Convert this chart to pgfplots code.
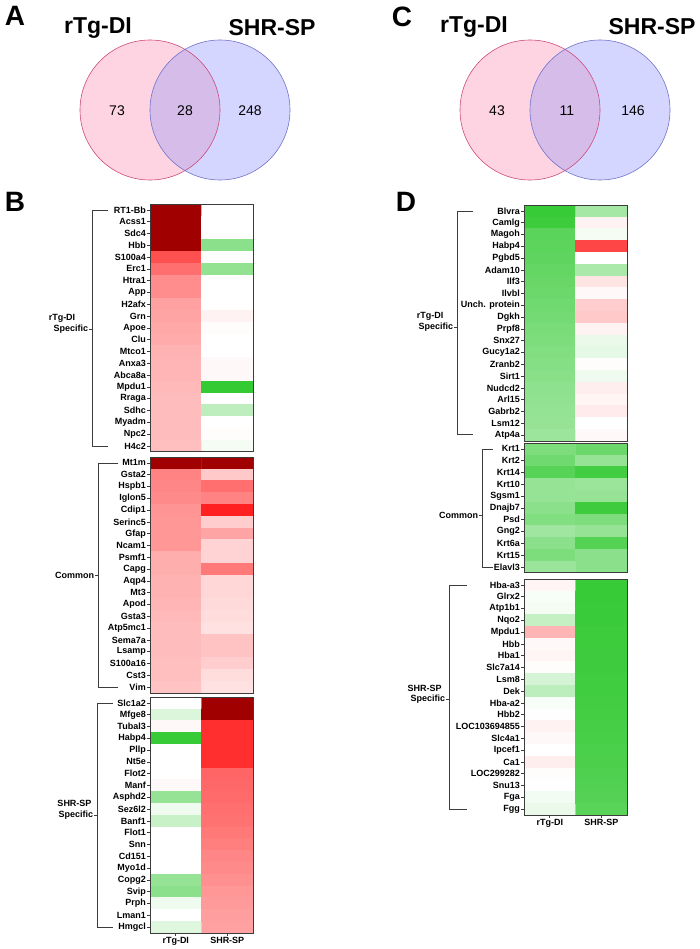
\documentclass[border=0pt]{standalone}
\usepackage{pgfplots}
\pgfplotsset{compat=1.18}
\usepackage{fontspec}
\setmainfont{Liberation Sans}

\definecolor{vpink}{RGB}{255,212,226}
\definecolor{vblue}{RGB}{212,214,255}
\definecolor{vover}{RGB}{214,188,232}
\definecolor{vpinkline}{RGB}{205,75,125}
\definecolor{vblueline}{RGB}{115,115,200}
\definecolor{frame}{RGB}{60,60,60}

\newcommand{\lab}{\bfseries\fontsize{9}{9}\selectfont}

\pgfplotsset{
  heat/.style={
    scale only axis, width=103pt, anchor=north west, axis on top,
    xmin=-0.5, xmax=1.5, ymin=-0.5, y dir=reverse,
    colormap={rwg}{rgb255(0cm)=(45,200,45) rgb255(1cm)=(255,255,255)
                   rgb255(1.7cm)=(255,20,20) rgb255(2cm)=(160,0,0)},
    point meta min=-1, point meta max=1,
    axis line style={draw=frame, line width=1pt},
    xtick=\empty, ytick pos=left, tick align=outside, major tick length=3pt,
    tick style={draw=frame, line width=0.7pt},
    ticklabel style={font=\lab, inner sep=1pt},
  },
  heatbottom/.style={xtick={0,1}, xticklabels={rTg-DI,SHR-SP}, xtick pos=bottom},
}

\begin{document}
\begin{tikzpicture}
\path[use as bounding box] (0,0) rectangle (700pt,-949pt);

% Venn diagrams A and C
\begin{axis}[scale only axis, width=700pt, height=190pt, at={(0pt,0pt)}, anchor=north west,
  xmin=0, xmax=700, ymin=0, ymax=190, y dir=reverse, hide axis, clip=false]
  \fill[vpink] (axis cs:150,110) circle[radius=70pt];
  \fill[vblue] (axis cs:220,110) circle[radius=70pt];
  \begin{scope}
    \clip (axis cs:150,110) circle[radius=70pt];
    \fill[vover] (axis cs:220,110) circle[radius=70pt];
  \end{scope}
  \draw[vpinkline, line width=0.6pt] (axis cs:150,110) circle[radius=70pt];
  \draw[vblueline, line width=0.6pt] (axis cs:220,110) circle[radius=70pt];
  \fill[vpink] (axis cs:530,110) circle[radius=70pt];
  \fill[vblue] (axis cs:600,110) circle[radius=70pt];
  \begin{scope}
    \clip (axis cs:530,110) circle[radius=70pt];
    \fill[vover] (axis cs:600,110) circle[radius=70pt];
  \end{scope}
  \draw[vpinkline, line width=0.6pt] (axis cs:530,110) circle[radius=70pt];
  \draw[vblueline, line width=0.6pt] (axis cs:600,110) circle[radius=70pt];
  \begin{scope}[every node/.style={font=\fontsize{14}{14}\selectfont}]
    \node at (axis cs:117,111) {73};
    \node at (axis cs:185,111) {28};
    \node at (axis cs:250,111) {248};
    \node at (axis cs:497,111) {43};
    \node at (axis cs:567,111) {11};
    \node at (axis cs:633,111) {146};
  \end{scope}
\end{axis}

% B: rTg-DI specific
\begin{axis}[heat, at={(150pt,-204pt)}, height=247.8pt, ymax=20.5,
  ytick={0,...,20},
  yticklabels={RT1-Bb,Acss1,Sdc4,Hbb,S100a4,Erc1,Htra1,App,H2afx,Grn,Apoe,Clu,Mtco1,Anxa3,Abca8a,Mpdu1,Rraga,Sdhc,Myadm,Npc2,H4c2}]
\addplot[matrix plot*, mesh/cols=2, point meta=explicit] coordinates {
(0,0)[1.00] (1,0)[0]
(0,1)[1.00] (1,1)[0]
(0,2)[1.00] (1,2)[0]
(0,3)[1.00] (1,3)[-0.55]
(0,4)[0.52] (1,4)[0]
(0,5)[0.43] (1,5)[-0.52]
(0,6)[0.34] (1,6)[0]
(0,7)[0.34] (1,7)[0]
(0,8)[0.28] (1,8)[0]
(0,9)[0.27] (1,9)[0.04]
(0,10)[0.26] (1,10)[0.01]
(0,11)[0.25] (1,11)[0]
(0,12)[0.23] (1,12)[0]
(0,13)[0.22] (1,13)[0.02]
(0,14)[0.22] (1,14)[0.02]
(0,15)[0.21] (1,15)[-0.97]
(0,16)[0.20] (1,16)[0]
(0,17)[0.20] (1,17)[-0.31]
(0,18)[0.20] (1,18)[0]
(0,19)[0.20] (1,19)[0.01]
(0,20)[0.19] (1,20)[-0.05]
};
\end{axis}

% B: common
\begin{axis}[heat, at={(150pt,-457pt)}, height=236pt, ymax=19.5,
  ytick={0,...,19},
  yticklabels={Mt1m,Gsta2,Hspb1,Iglon5,Cdip1,Serinc5,Gfap,Ncam1,Psmf1,Capg,Aqp4,Mt3,Apod,Gsta3,Atp5mc1,Sema7a,Lsamp,S100a16,Cst3,Vim}]
\addplot[matrix plot*, mesh/cols=2, point meta=explicit] coordinates {
(0,0)[1.00] (1,0)[1.00]
(0,1)[0.37] (1,1)[0.16]
(0,2)[0.36] (1,2)[0.43]
(0,3)[0.35] (1,3)[0.37]
(0,4)[0.32] (1,4)[0.66]
(0,5)[0.31] (1,5)[0.15]
(0,6)[0.31] (1,6)[0.27]
(0,7)[0.31] (1,7)[0.13]
(0,8)[0.24] (1,8)[0.13]
(0,9)[0.24] (1,9)[0.40]
(0,10)[0.23] (1,10)[0.12]
(0,11)[0.23] (1,11)[0.12]
(0,12)[0.22] (1,12)[0.11]
(0,13)[0.21] (1,13)[0.10]
(0,14)[0.20] (1,14)[0.09]
(0,15)[0.20] (1,15)[0.18]
(0,16)[0.20] (1,16)[0.18]
(0,17)[0.19] (1,17)[0.15]
(0,18)[0.19] (1,18)[0.10]
(0,19)[0.18] (1,19)[0.09]
};
\end{axis}

% B: SHR-SP specific
\begin{axis}[heat, heatbottom, at={(150pt,-697pt)}, height=236pt, ymax=19.5,
  ytick={0,...,19},
  yticklabels={Slc1a2,Mfge8,Tubal3,Habp4,Pllp,Nt5e,Flot2,Manf,Asphd2,Sez6l2,Banf1,Flot1,Snn,Cd151,Myo1d,Copg2,Svip,Prph,Lman1,Hmgcl}]
\addplot[matrix plot*, mesh/cols=2, point meta=explicit] coordinates {
(0,0)[0] (1,0)[1.00]
(0,1)[-0.17] (1,1)[1.00]
(0,2)[0.02] (1,2)[0.62]
(0,3)[-0.95] (1,3)[0.62]
(0,4)[0] (1,4)[0.62]
(0,5)[0] (1,5)[0.62]
(0,6)[0] (1,6)[0.46]
(0,7)[0.02] (1,7)[0.45]
(0,8)[-0.50] (1,8)[0.44]
(0,9)[-0.08] (1,9)[0.43]
(0,10)[-0.26] (1,10)[0.42]
(0,11)[0] (1,11)[0.40]
(0,12)[0] (1,12)[0.38]
(0,13)[0] (1,13)[0.36]
(0,14)[0] (1,14)[0.35]
(0,15)[-0.50] (1,15)[0.33]
(0,16)[-0.55] (1,16)[0.31]
(0,17)[-0.07] (1,17)[0.30]
(0,18)[0] (1,18)[0.29]
(0,19)[-0.15] (1,19)[0.28]
};
\end{axis}

% D: rTg-DI specific
\begin{axis}[heat, at={(524pt,-205pt)}, height=236pt, ymax=19.5,
  ytick={0,...,19},
  yticklabels={Blvra,Camlg,Magoh,Habp4,Pgbd5,Adam10,Ilf3,Ilvbl,Unch. protein,Dgkh,Prpf8,Snx27,Gucy1a2,Zranb2,Sirt1,Nudcd2,Arl15,Gabrb2,Lsm12,Atp4a}]
\addplot[matrix plot*, mesh/cols=2, point meta=explicit] coordinates {
(0,0)[-0.95] (1,0)[-0.43]
(0,1)[-0.93] (1,1)[0.04]
(0,2)[-0.78] (1,2)[-0.05]
(0,3)[-0.77] (1,3)[0.55]
(0,4)[-0.76] (1,4)[0]
(0,5)[-0.74] (1,5)[-0.40]
(0,6)[-0.72] (1,6)[0.08]
(0,7)[-0.70] (1,7)[0.02]
(0,8)[-0.68] (1,8)[0.15]
(0,9)[-0.66] (1,9)[0.16]
(0,10)[-0.64] (1,10)[0.04]
(0,11)[-0.62] (1,11)[-0.10]
(0,12)[-0.60] (1,12)[-0.12]
(0,13)[-0.58] (1,13)[0.01]
(0,14)[-0.56] (1,14)[-0.08]
(0,15)[-0.54] (1,15)[0.05]
(0,16)[-0.53] (1,16)[0.03]
(0,17)[-0.51] (1,17)[0.06]
(0,18)[-0.50] (1,18)[0]
(0,19)[-0.47] (1,19)[0.02]
};
\end{axis}

% D: common
\begin{axis}[heat, at={(524pt,-443pt)}, height=129.8pt, ymax=10.5,
  ytick={0,...,10},
  yticklabels={Krt1,Krt2,Krt14,Krt10,Sgsm1,Dnajb7,Psd,Gng2,Krt6a,Krt15,Elavl3}]
\addplot[matrix plot*, mesh/cols=2, point meta=explicit] coordinates {
(0,0)[-0.62] (1,0)[-0.70]
(0,1)[-0.68] (1,1)[-0.50]
(0,2)[-0.80] (1,2)[-0.90]
(0,3)[-0.50] (1,3)[-0.48]
(0,4)[-0.50] (1,4)[-0.50]
(0,5)[-0.55] (1,5)[-0.92]
(0,6)[-0.60] (1,6)[-0.62]
(0,7)[-0.45] (1,7)[-0.50]
(0,8)[-0.55] (1,8)[-0.82]
(0,9)[-0.62] (1,9)[-0.55]
(0,10)[-0.48] (1,10)[-0.55]
};
\end{axis}

% D: SHR-SP specific
\begin{axis}[heat, heatbottom, at={(524pt,-579pt)}, height=236pt, ymax=19.5,
  ytick={0,...,19},
  yticklabels={Hba-a3,Glrx2,Atp1b1,Nqo2,Mpdu1,Hbb,Hba1,Slc7a14,Lsm8,Dek,Hba-a2,Hbb2,LOC103694855,Slc4a1,Ipcef1,Ca1,LOC299282,Snu13,Fga,Fgg}]
\addplot[matrix plot*, mesh/cols=2, point meta=explicit] coordinates {
(0,0)[0.03] (1,0)[-0.95]
(0,1)[-0.04] (1,1)[-0.95]
(0,2)[-0.05] (1,2)[-0.94]
(0,3)[-0.28] (1,3)[-0.94]
(0,4)[0.22] (1,4)[-0.93]
(0,5)[0.02] (1,5)[-0.93]
(0,6)[0.03] (1,6)[-0.92]
(0,7)[0.01] (1,7)[-0.92]
(0,8)[-0.20] (1,8)[-0.91]
(0,9)[-0.32] (1,9)[-0.91]
(0,10)[-0.04] (1,10)[-0.90]
(0,11)[-0.01] (1,11)[-0.89]
(0,12)[0.04] (1,12)[-0.88]
(0,13)[0.02] (1,13)[-0.87]
(0,14)[0] (1,14)[-0.86]
(0,15)[0.05] (1,15)[-0.85]
(0,16)[0.01] (1,16)[-0.84]
(0,17)[0] (1,17)[-0.83]
(0,18)[-0.06] (1,18)[-0.81]
(0,19)[-0.10] (1,19)[-0.79]
};
\end{axis}

% titles, panel letters, group brackets
\begin{scope}[x=1pt, y=-1pt]
  \node[font=\bfseries\fontsize{28}{28}\selectfont] at (15,16) {A};
  \node[font=\bfseries\fontsize{28}{28}\selectfont] at (402,17) {C};
  \node[font=\bfseries\fontsize{28}{28}\selectfont] at (15,202) {B};
  \node[font=\bfseries\fontsize{28}{28}\selectfont] at (406,202) {D};
  \begin{scope}[every node/.style={font=\bfseries\fontsize{23}{23}\selectfont}]
    \node at (98,28) {rTg-DI};
    \node at (272,28) {SHR-SP};
    \node at (474,27) {rTg-DI};
    \node at (652,27) {SHR-SP};
  \end{scope}
  \begin{scope}[draw=frame, line width=0.9pt, every node/.style={font=\lab, inner sep=0pt}]
    \draw (108,210) -- (92,210) -- (92,446) -- (108,446);
    \draw (92,329) -- (89,329);
    \node at (62,318) {rTg-DI};
    \node[anchor=east] at (88.5,329) {Specific};
    \draw (118,463) -- (98,463) -- (98,687) -- (118,687);
    \draw (98,575) -- (95,575);
    \node[anchor=east] at (94.5,575) {Common};
    \draw (113,703) -- (97,703) -- (97,927) -- (113,927);
    \draw (97,815) -- (94,815);
    \node at (74.5,803) {SHR-SP};
    \node[anchor=east] at (93.5,815) {Specific};
    \draw (473,211) -- (457,211) -- (457,434) -- (473,434);
    \draw (457,327) -- (454,327);
    \node at (430,316) {rTg-DI};
    \node[anchor=east] at (453.5,327) {Specific};
    \draw (493,449) -- (482,449) -- (482,567) -- (493,567);
    \draw (482,515) -- (479,515);
    \node[anchor=east] at (478.5,515) {Common};
    \draw (467,585) -- (449,585) -- (449,809) -- (467,809);
    \draw (449,699) -- (446,699);
    \node at (424.5,688) {SHR-SP};
    \node[anchor=east] at (445.5,699) {Specific};
  \end{scope}
\end{scope}
\end{tikzpicture}
\end{document}
